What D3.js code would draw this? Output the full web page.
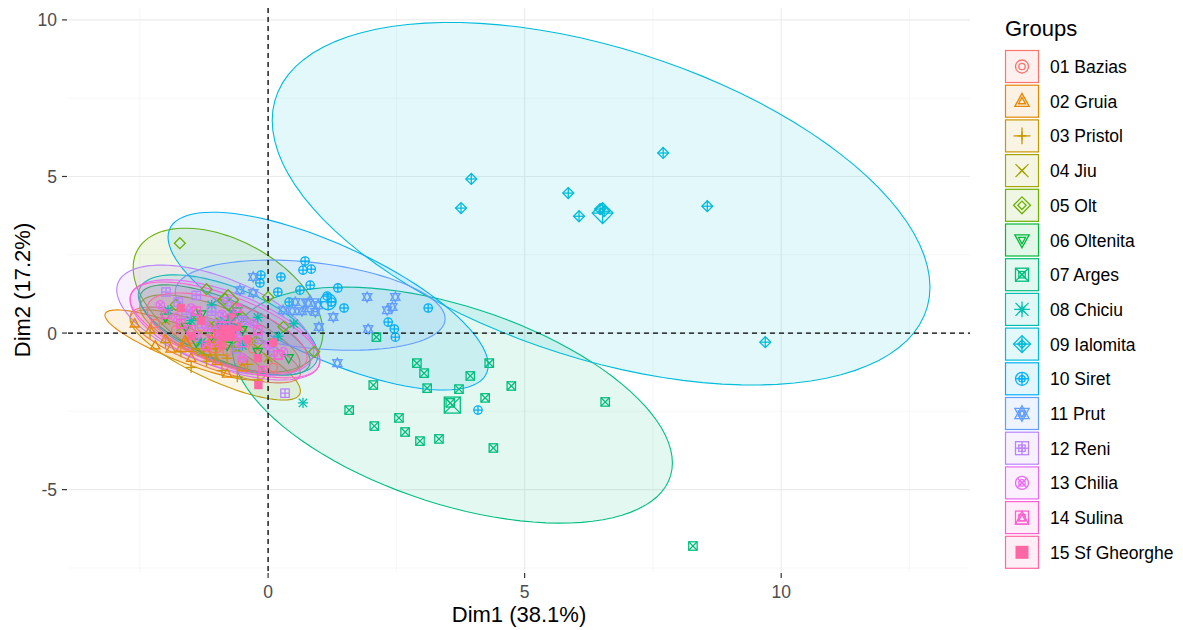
<!DOCTYPE html>
<html lang="en">
<head>
<meta charset="UTF-8">
<title>PCA individuals</title>
<script src="https://d3js.org/d3.v7.min.js"></script>
<style>
  body { margin: 0; background: #fff; font-family: "Liberation Sans", Arial, sans-serif; }
  .grid-major { stroke: #ebebeb; stroke-width: 1.1; }
  .grid-minor { stroke: #f2f2f2; stroke-width: 0.6; }
  .tick-text { fill: #4d4d4d; font-size: 17.5px; }
  .axis-title { fill: #000; font-size: 22px; }
  .legend-text { fill: #000; font-size: 17.5px; }
</style>
</head>
<body>
<svg width="1183" height="630"></svg>
<script>
// ---- data ----
var groups = ['01 Bazias','02 Gruia','03 Pristol','04 Jiu','05 Olt','06 Oltenita','07 Arges','08 Chiciu',
              '09 Ialomita','10 Siret','11 Prut','12 Reni','13 Chilia','14 Sulina','15 Sf Gheorghe'];
var colors = ['#F8766D','#E58700','#C99800','#A3A500','#6BB100','#00BA38','#00BF7D','#00C0AF',
              '#00BCD8','#00B0F6','#619CFF','#B983FF','#E76BF3','#FD61D1','#FF67A4'];
var shapes = [1,2,3,4,5,6,7,8,9,10,11,12,13,14,15];   // R pch codes

var xTicks = [0, 5, 10];
var yTicks = [-5, 0, 5, 10];

var ptsBazias = [[-2.2,0.3],[-1.8,0.1],[-1.5,-0.2],[-1.3,0.2],[-1.0,-0.4],[-0.8,-0.6],[-0.5,-0.9],[-1.2,-0.7],[-0.3,-0.5],[-1.6,-0.4],[0.1,-1.1],[-0.7,-0.1]];
var ptsGruia = [[-2.6,0.3],[-2.3,0.1],[-2.0,-0.2],[-1.9,-0.5],[-1.6,-0.3],[-1.5,-0.8],[-1.2,-0.6],[-1.0,-0.9],[-0.8,-1.3],[-0.5,-1.1],[-1.1,-0.2],[-2.2,-0.4],[-1.1,-0.4]];
var ptsPristol = [[-2.3,0.0],[-2.0,-0.3],[-1.7,-0.6],[-1.4,-0.5],[-1.2,-0.9],[-0.9,-1.2],[-0.6,-1.4],[-0.4,-1.0],[-1.0,-0.5],[-0.2,-1.5],[-1.5,-1.1],[-0.8,-0.8]];
var ptsJiu = [[-2.0,0.4],[-1.7,0.2],[-1.4,-0.1],[-1.1,0.3],[-0.9,-0.3],[-0.6,-0.5],[-0.3,-0.2],[-0.8,0.1],[-1.3,-0.6],[0.0,-0.8],[-0.5,0.2]];
var ptsOlt = [[-1.72,2.87],[-0.84,1.09],[0.0,1.15],[-1.4,0.6],[-1.0,0.3],[-0.5,0.5],[-0.2,-0.3],[-1.8,0.9],[0.3,0.2],[-0.6,-0.4],[0.9,-0.6],[-1.2,1.4]];
var ptsOltenita = [[-2.0,0.5],[-1.6,0.2],[-1.3,0.6],[-1.1,-0.1],[-0.8,-0.4],[-0.5,0.1],[-0.2,-0.6],[0.1,-0.3],[-0.6,0.7],[-1.4,-0.3],[0.4,-0.8],[-0.9,0.3]];
var ptsArges = [[2.90,-0.96],[3.04,-1.28],[4.31,-0.96],[3.94,-1.37],[2.05,-1.66],[3.10,-1.76],[3.72,-1.79],[4.74,-1.69],[4.23,-2.07],[3.55,-2.23],[1.58,-2.46],[2.55,-2.71],[2.07,-2.97],[2.67,-3.16],[2.96,-3.45],[3.33,-3.38],[4.39,-3.67],[6.57,-2.20],[2.11,-0.13],[8.28,-6.80]];
var ptsChiciu = [[-1.95,0.73],[0.68,-2.23],[-1.5,0.4],[-1.1,0.9],[-0.9,0.0],[-0.5,-0.4],[-0.2,0.5],[0.2,-0.1],[-1.3,-0.3],[0.5,0.3],[-0.7,0.6]];
var ptsIalomita = [[3.96,4.92],[3.76,3.99],[5.85,4.47],[6.06,3.73],[6.47,3.96],[6.55,3.89],[7.70,5.75],[8.56,4.05],[9.69,-0.29]];
var ptsSiret = [[0.72,2.30],[0.68,2.01],[0.84,2.04],[0.25,1.79],[0.82,1.53],[-0.14,1.85],[-0.16,1.60],[0.19,1.31],[0.62,1.37],[1.15,1.18],[1.36,1.44],[1.23,0.99],[1.48,0.80],[3.12,0.80],[2.34,0.35],[2.46,0.13],[2.48,-0.13],[4.09,-2.46],[0.41,0.99]];
var ptsPrut = [[-0.29,1.79],[-0.29,1.28],[0.53,0.99],[0.29,0.73],[0.47,0.70],[0.66,0.70],[0.78,0.96],[0.97,0.89],[0.92,0.67],[1.27,0.51],[0.99,0.19],[1.93,1.15],[2.48,1.15],[2.32,0.73],[2.42,0.83],[1.95,0.13],[1.35,-0.96],[-0.55,1.37]];
var ptsReni = [[-1.99,1.31],[-1.75,0.99],[-1.4,1.2],[-1.1,0.7],[-0.8,1.0],[-0.5,0.4],[-0.9,0.2],[-0.2,-0.2],[-1.3,0.3],[0.1,-0.6],[0.33,-1.92],[-0.6,-0.5],[-1.6,0.6]];
var ptsChilia = [[-2.1,0.9],[-1.8,0.5],[-1.5,0.8],[-1.2,0.2],[-0.9,0.6],[-0.6,-0.1],[-0.3,0.3],[0.0,-0.4],[-1.0,-0.3],[-0.5,-0.8],[0.3,-0.6],[-1.4,-0.1]];
var ptsSulina = [[-2.0,0.6],[-1.7,0.3],[-1.4,0.7],[-1.1,0.0],[-0.8,0.4],[-0.5,-0.3],[-0.2,0.1],[0.2,-0.7],[-1.2,-0.4],[-0.6,0.8],[-0.1,-1.2],[-1.5,0.1]];
var ptsSfGheorghe = [[-1.7,0.8],[-1.3,0.4],[-1.0,0.1],[-0.7,0.5],[-0.4,-0.2],[-0.9,-0.4],[-0.2,-0.8],[-0.19,-1.66],[-1.5,-0.1],[0.1,-0.3],[-0.6,0.2]];

var points = [ptsBazias, ptsGruia, ptsPristol, ptsJiu, ptsOlt, ptsOltenita, ptsArges, ptsChiciu,
              ptsIalomita, ptsSiret, ptsPrut, ptsReni, ptsChilia, ptsSulina, ptsSfGheorghe];

// group means (large symbols)
var meanX = [-1.03,-1.62,-1.03,-0.94,-0.78,-0.84, 3.59,-0.78, 6.52, 1.17, 0.82,-1.03,-0.84,-0.84,-0.80];
var meanY = [-0.38,-0.38,-0.70,-0.06, 1.05, 0.10,-2.30, 0.26, 3.83, 1.00, 0.89, 0.41, 0.10, 0.10, 0.00];

// confidence ellipses: centre, half extent in x / y, correlation
var ellCx  = [-1.03,-1.62,-1.03,-0.94,-0.78,-0.84, 3.59,-0.78, 6.49, 1.17, 0.82,-1.03,-0.84,-0.84,-0.80];
var ellCy  = [-0.38,-0.38,-0.70,-0.06, 1.05, 0.10,-2.30, 0.26, 4.13, 1.02, 0.89, 0.41, 0.10, 0.10, 0.00];
var ellHx  = [ 1.66, 1.56, 1.66, 1.56, 1.85, 1.66, 4.29, 1.75, 6.41, 3.12, 2.63, 1.92, 1.85, 1.85, 1.56];
var ellHy  = [ 1.21, 1.12, 1.44, 1.28, 2.30, 1.44, 3.77, 1.60, 5.79, 2.84, 1.44, 1.76, 1.60, 1.53, 1.28];
var ellRho = [-0.75,-0.85,-0.80,-0.70,-0.45,-0.70,-0.49,-0.60,-0.46,-0.72,-0.30,-0.55,-0.60,-0.65,-0.60];

// ---- layout ----
var svg = d3.select("svg"),
    panel = {left: 68, right: 970, top: 8, bottom: 572};

var x = d3.scaleLinear().domain([-3.9, 13.68]).range([panel.left, panel.right]);
var y = d3.scaleLinear().domain([-7.63, 10.38]).range([panel.bottom, panel.top]);

var g = svg.append("g");

// grid
var xMinor = [-2.5, 2.5, 7.5, 12.5], yMinor = [-7.5, -2.5, 2.5, 7.5];
xMinor.forEach(function(v) {
    g.append("line").attr("class", "grid-minor")
        .attr("x1", x(v)).attr("x2", x(v)).attr("y1", panel.top).attr("y2", panel.bottom);
});
yMinor.forEach(function(v) {
    g.append("line").attr("class", "grid-minor")
        .attr("x1", panel.left).attr("x2", panel.right).attr("y1", y(v)).attr("y2", y(v));
});
xTicks.forEach(function(v) {
    g.append("line").attr("class", "grid-major")
        .attr("x1", x(v)).attr("x2", x(v)).attr("y1", panel.top).attr("y2", panel.bottom);
});
yTicks.forEach(function(v) {
    g.append("line").attr("class", "grid-major")
        .attr("x1", panel.left).attr("x2", panel.right).attr("y1", y(v)).attr("y2", y(v));
});

// ellipses
var line = d3.line().x(function(d) { return x(d[0]); }).y(function(d) { return y(d[1]); });
var ts = d3.range(0, 101).map(function(i) { return i / 100 * 2 * Math.PI; });
groups.forEach(function(name, i) {
    var s = Math.sqrt(1 - ellRho[i] * ellRho[i]);
    var path = ts.map(function(t) {
        return [ellCx[i] + ellHx[i] * Math.cos(t),
                ellCy[i] + ellHy[i] * (ellRho[i] * Math.cos(t) + s * Math.sin(t))];
    });
    g.append("path").attr("d", line(path) + "Z")
        .attr("fill", colors[i]).attr("fill-opacity", 0.11)
        .attr("stroke", colors[i]).attr("stroke-width", 1.1);
});

// reference lines
g.append("line").attr("x1", x(0)).attr("x2", x(0)).attr("y1", panel.top).attr("y2", panel.bottom)
    .attr("stroke", "#000").attr("stroke-dasharray", "5,4").attr("stroke-width", 1.3);
g.append("line").attr("x1", panel.left).attr("x2", panel.right).attr("y1", y(0)).attr("y2", y(0))
    .attr("stroke", "#000").attr("stroke-dasharray", "5,4").attr("stroke-width", 1.3);

// R pch-like symbols
function symbol(parent, pch, cx, cy, r, col) {
    var s = parent.append("g").attr("transform", "translate(" + cx + "," + cy + ")")
        .attr("fill", "none").attr("stroke", col).attr("stroke-width", 1.3);
    function ln(a, b, c, d) { s.append("line").attr("x1", a).attr("y1", b).attr("x2", c).attr("y2", d); }
    function circ() { s.append("circle").attr("r", r); }
    function sq() { s.append("rect").attr("x", -r).attr("y", -r).attr("width", 2 * r).attr("height", 2 * r); }
    function dia() { s.append("path").attr("d", "M0," + (-r * 1.3) + "L" + (r * 1.3) + ",0L0," + (r * 1.3) + "L" + (-r * 1.3) + ",0Z"); }
    function triUp() { s.append("path").attr("d", "M0," + (-r * 1.2) + "L" + (r * 1.1) + "," + (r * 0.8) + "L" + (-r * 1.1) + "," + (r * 0.8) + "Z"); }
    function triDn() { s.append("path").attr("d", "M0," + (r * 1.2) + "L" + (r * 1.1) + "," + (-r * 0.8) + "L" + (-r * 1.1) + "," + (-r * 0.8) + "Z"); }
    switch (pch) {
        case 1: circ(); break;
        case 2: triUp(); break;
        case 3: ln(-r * 1.3, 0, r * 1.3, 0); ln(0, -r * 1.3, 0, r * 1.3); break;
        case 4: ln(-r, -r, r, r); ln(-r, r, r, -r); break;
        case 5: dia(); break;
        case 6: triDn(); break;
        case 7: sq(); ln(-r, -r, r, r); ln(-r, r, r, -r); break;
        case 8: ln(-r * 1.2, 0, r * 1.2, 0); ln(0, -r * 1.2, 0, r * 1.2); ln(-r, -r, r, r); ln(-r, r, r, -r); break;
        case 9: dia(); ln(-r * 1.3, 0, r * 1.3, 0); ln(0, -r * 1.3, 0, r * 1.3); break;
        case 10: circ(); ln(-r, 0, r, 0); ln(0, -r, 0, r); break;
        case 11: triUp(); triDn(); break;
        case 12: sq(); ln(-r, 0, r, 0); ln(0, -r, 0, r); break;
        case 13: circ(); ln(-r * 0.7, -r * 0.7, r * 0.7, r * 0.7); ln(-r * 0.7, r * 0.7, r * 0.7, -r * 0.7); break;
        case 14: sq(); s.append("path").attr("d", "M0," + (-r) + "L" + r + "," + r + "L" + (-r) + "," + r + "Z"); break;
        case 15: s.append("rect").attr("x", -r).attr("y", -r).attr("width", 2 * r).attr("height", 2 * r)
                    .attr("fill", col).attr("stroke", "none"); break;
    }
}

// individual points
groups.forEach(function(name, i) {
    points[i].forEach(function(p) {
        symbol(g, shapes[i], x(p[0]), y(p[1]), 4.2, colors[i]);
    });
});
// means
groups.forEach(function(name, i) {
    symbol(g, shapes[i], x(meanX[i]), y(meanY[i]), 8, colors[i]);
});

// axes ticks and labels
xTicks.forEach(function(v) {
    g.append("line").attr("x1", x(v)).attr("x2", x(v)).attr("y1", panel.bottom + 1).attr("y2", panel.bottom + 6)
        .attr("stroke", "#333").attr("stroke-width", 1.2);
    g.append("text").attr("class", "tick-text").attr("x", x(v)).attr("y", 598)
        .attr("text-anchor", "middle").text(v);
});
yTicks.forEach(function(v) {
    g.append("line").attr("x1", panel.left - 6).attr("x2", panel.left - 1).attr("y1", y(v)).attr("y2", y(v))
        .attr("stroke", "#333").attr("stroke-width", 1.2);
    g.append("text").attr("class", "tick-text").attr("x", panel.left - 11).attr("y", y(v) + 6.5)
        .attr("text-anchor", "end").text(v);
});
svg.append("text").attr("class", "axis-title").attr("x", (panel.left + panel.right) / 2).attr("y", 622)
    .attr("text-anchor", "middle").text("Dim1 (38.1%)");
svg.append("text").attr("class", "axis-title")
    .attr("transform", "translate(30," + ((panel.top + panel.bottom) / 2) + ") rotate(-90)")
    .attr("text-anchor", "middle").text("Dim2 (17.2%)");

// legend
var lg = svg.append("g").attr("transform", "translate(1005,50)");
lg.append("text").attr("x", 0).attr("y", -14).attr("font-size", 22).attr("fill", "#000").text("Groups");
groups.forEach(function(name, i) {
    var row = lg.append("g").attr("transform", "translate(0," + (i * 34.7) + ")");
    row.append("rect").attr("x", 0.5).attr("y", 0.5).attr("width", 33).attr("height", 32)
        .attr("fill", colors[i]).attr("fill-opacity", 0.11)
        .attr("stroke", colors[i]).attr("stroke-width", 1.2);
    symbol(row, shapes[i], 17, 16.5, 6.5, colors[i]);
    if (shapes[i] !== 15) symbol(row, shapes[i], 17, 16.5, 3.2, colors[i]);
    row.append("text").attr("class", "legend-text").attr("x", 45).attr("y", 23).text(name);
});
</script>
</body>
</html>
